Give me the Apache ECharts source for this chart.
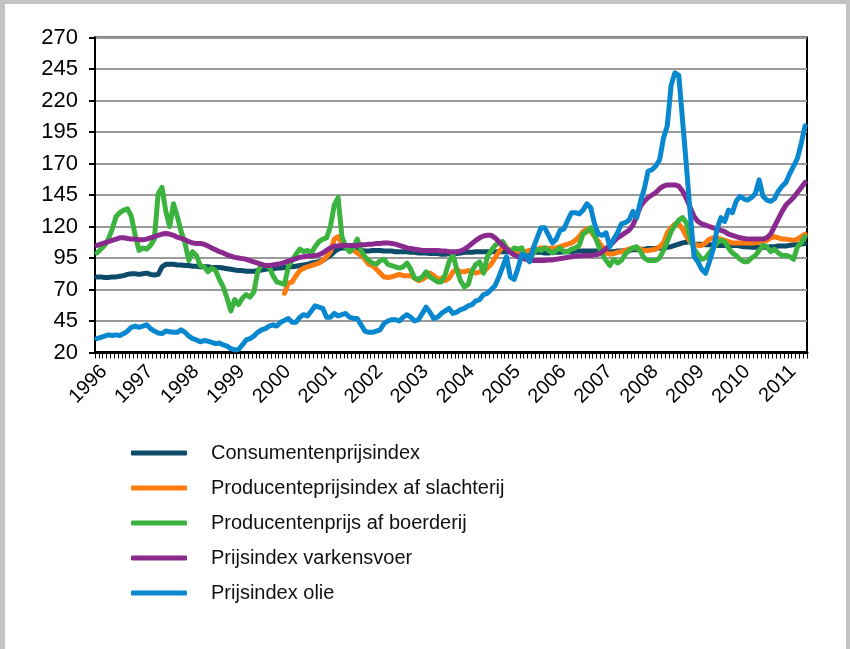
<!DOCTYPE html>
<html><head><meta charset="utf-8">
<script src="https://cdn.jsdelivr.net/npm/echarts@6/dist/echarts.min.js"></script>
<style>html,body{margin:0;padding:0;background:#fff}#c{width:850px;height:649px}</style>
</head><body><div id="c"></div>
<script>
const yearLabels = ['1996','1997','1998','1999','2000','2001','2002','2003','2004','2005','2006','2007','2008','2009','2010','2011'];
const monthCount = 186;
const categories = [];
for (let i = 0; i < monthCount; i++) {
  const y = yearLabels[Math.floor(i / 12)];
  const m = (i % 12) + 1;
  categories.push(y + '-' + (m < 10 ? '0' + m : m));
}
const seriesNames = ['Consumentenprijsindex','Producenteprijsindex af slachterij','Producentenprijs af boerderij','Prijsindex varkensvoer','Prijsindex olie'];

const consumentenprijsindex = [
80,80,79.5,79.5,80,80,80.5,81,82,82.5,82.5,82,
82.5,83,82,81.5,82,88,90,90,90,89.5,89.5,89,
89,88.5,88.5,88,88,88,87.5,87.5,87.5,87,86.5,86,
85.5,85,85,84.5,84.5,84.5,85,85.5,86,86.5,86.5,87,
87,87.5,88,88,88.5,89,89.5,90,91,91.5,92,93,
95,97,100,102,103,103,102,101,101,101,100.5,100.5,
101,101,101,100.5,100.5,100.5,100,100,100,100,99.5,99.5,
99,99,99,98.5,98.5,98.5,98,98,98.5,98.5,98.5,99,
99.5,99.5,99.5,100,100,100,100,100,100,100,100,100,
100,100,99.5,99.5,99.5,99.5,99.5,99.5,99.5,99,99,99.5,
99.5,99.5,100,100,100,100.5,100.5,100.5,100.5,100.5,100.5,100.5,
100,100,100,100,100.5,100.5,101,101,101.5,101.5,102,102,
102.5,102.5,102.5,103,103,103.5,104,105,106,107,107.5,108,
106,106,106,105.5,105.5,105.5,105,105,105,105,105,105,
104.5,104,104,103.5,103.5,103.5,103.5,103.5,104,104,104.5,104.5,
104.5,105,105.5,105.5,106,106.5];

const slachterij = [
null,null,null,null,null,null,null,null,null,null,null,null,
null,null,null,null,null,null,null,null,null,null,null,null,
null,null,null,null,null,null,null,null,null,null,null,null,
null,null,null,null,null,null,null,null,null,null,null,null,
null,67,75,76,81,85,87,88,89,90,91,93,
96,100,110,112,106,104,103,101,99,97,94,90,
89,86,83,80,79.5,80,81,82,81,81,81,79,
77,78,80,83,81,78,79,77,79,84,86,84,
84,85,84,83,84,84,87,90,95,100,104,103,
101,100,99,99.5,100,101,102,102,103,103,102.5,103,
103,104,105,106,107,109,112,116,118,116,112,108,
104,99,98,98.5,99.5,100,101,102,103,103,102,101,
101,101.5,102,104,107,115,119,122,122,118,112,108,
106,105,105,107,110,111,111,110,109,108,107,107,
107,107,107,107,107,107.5,108,109,111,112,111,110,
110,109.5,109,110,112,114];

const boerderij = [
99,102,105,110,118,128,131,133,134,128,113,101,
103,102,105,110,146,151,132,120,138,128,116,107,
93,100,97,89,88,84,87,85,78,72,63,53,
62,58,63,66,64,68,84,90,89,88,81,76,
75,74,88,93,98,102,100,101,99,104,108,110,
111,120,137,143,112,104,100,103,110,101,96,93,
91,90,93,94,90,89,88,87,88,91,86,79,
78,80,84,80,78,76,76,82,92,98,86,77,
72,74,85,90,92,83,96,101,105,107,108,103,
100,103,102,103,95,93,99,102,101,103,101,99,
101,103,100,100,102,103,105,114,116,119,113,105,
98,93,89,94,91,93,98,101,103,104,100,95,
93,93,93,95,101,108,116,121,125,127,123,110,
102,98,94,95,99,103,107,109,108,103,99,97,
94,92,92,95,97,101,105,104,100,102,99,97,
97,96,94,104,107,112];

const varkensvoer = [
105,106,107,108,109,110,111,111,110.5,110,110,109.5,
109.5,110,111,112,113,114,114.5,114,113,111.5,110.5,109.5,
108,107,106.5,106.5,106,104.5,103,101.5,100,99,97.5,96.5,
95.5,95,94.5,94,93,92,91,90,89,89,89.5,90,
90.5,91.5,92.5,93.5,94.5,95.5,96,96.5,96.5,97,97.5,99,
101,103,104.5,104.5,105,105,105,105,105,105.5,105.5,106,
106,106.5,106.5,107,107,106.5,106,105,104,103,102.5,102,
101.5,101,101,101,101,101,100.5,100.5,100,100,100,100.5,
102,104,106.5,109,111,112.5,113,113,111,108,105,102,
99.5,97.5,96,95,94,93.5,93,93,93,93,93.5,93.5,
94,94.5,95,95.5,96,96.5,96.5,97,97,97,97.5,98,
100,102.5,105,108,111,113,115,117,121,128,136,140,
143,145,147,150,152,153,153,153,152,148,142,135,
128,124,122,121,120,119,118,117,116,114,113,112,
111,110.5,110,110,110,110,110,111,114,120,126,132,
137,140,143,147,151,155];

const olie = [
31,32,33,34,33.5,34,33.5,35,37,40,41,40,
41,42,39,37,35.5,35,37,36.5,36,36,38,36,
33,31,30,28.5,29.5,29,28,27,27.5,26,25,23,
22,22.5,26,30,31,33,36,38,39,41,42,41,
44,45.5,47,44,44,48,50,49,53,57,56,55,
48,48,51,49,50,51,48,47,47,42,37,36,
36,37,38,43,45,46,46,45,48,50,48,45,
46,51,56,52,47,48,51,53,55,51,52,54,
55,57,58,61,62,66,67,70,73,80,88,96,
80,78,87,98,97,92,103,111,119,119,113,107,
110,117,118,125,131,131,130,133,138,135,122,114,
113,115,104,110,115,122,123,125,132,127,140,150,
164,165,168,173,190,200,232,242,240,204,168,130,
96,92,86,83,92,102,118,127,124,133,131,140,
144,142,141,143,146,157,144,141,140,142,148,152,
155,162,168,174,186,200];

const yTicks = {min: 20, max: 270, step: 25};
const colors = ['#0c4b6a','#ff7b0d','#3cb23f','#8a2a8e','#0a88cf'];
const dataSets = [consumentenprijsindex, slachterij, boerderij, varkensvoer, olie];

const FONT = '"Liberation Sans", Arial, sans-serif';
const chart = echarts.init(document.getElementById('c'), null, {renderer: 'canvas'});
chart.setOption({
  backgroundColor: '#ffffff',
  animation: false,
  color: colors,
  textStyle: {fontFamily: FONT},
  grid: {left: 95, right: 43, top: 37.5, bottom: 296.5, show: true, borderColor: '#000', borderWidth: 2, backgroundColor: 'transparent'},
  graphic: [
    {type: 'rect', shape: {x: 0, y: 0, width: 850, height: 4}, style: {fill: '#c3c3c3'}, silent: true},
    {type: 'rect', shape: {x: 0, y: 0, width: 5, height: 649}, style: {fill: '#c3c3c3'}, silent: true},
    {type: 'rect', shape: {x: 846, y: 0, width: 4, height: 649}, style: {fill: '#c3c3c3'}, silent: true}
  ],
  legend: {
    orient: 'vertical', left: 126, top: 435,
    itemWidth: 56, itemHeight: 5, itemGap: 9,
    icon: 'roundRect',
    textStyle: {fontFamily: FONT, fontSize: 20, color: '#111', lineHeight: 26, padding: [0,0,0,19]},
    data: seriesNames
  },
  xAxis: {
    type: 'category', data: categories, boundaryGap: true,
    axisLine: {lineStyle: {color: '#000', width: 3}},
    axisTick: {show: true, interval: 0, length: 6, lineStyle: {color: '#000', width: 1}},
    axisLabel: {
      interval: function (idx) { return idx % 12 === 0; },
      formatter: function (v) { return v.slice(0, 4); },
      rotate: 45, fontSize: 20, color: '#000', margin: 9, verticalAlign: 'top', fontFamily: FONT
    },
    splitLine: {show: false}
  },
  yAxis: {
    type: 'value', min: yTicks.min, max: yTicks.max, interval: yTicks.step,
    axisLine: {show: true, lineStyle: {color: '#000', width: 2}},
    axisTick: {show: true, length: 6, lineStyle: {color: '#000', width: 2}},
    axisLabel: {fontSize: 22, color: '#000', margin: 17, fontFamily: FONT},
    splitLine: {show: true, lineStyle: {color: '#9a9a9a', width: 2}}
  },
  series: seriesNames.map(function (name, k) {
    return {
      name: name, type: 'line', data: dataSets[k],
      showSymbol: false, symbol: 'none', connectNulls: false,
      lineStyle: {width: 5, color: colors[k], cap: 'round', join: 'round'},
      itemStyle: {color: colors[k]},
      z: 2 + k
    };
  })
});
</script></body></html>
